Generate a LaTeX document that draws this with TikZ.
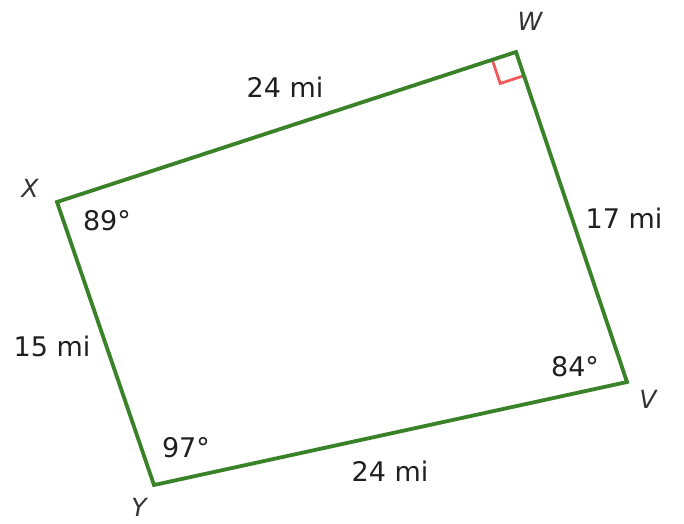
\documentclass[tikz,border=0pt]{standalone}
\usepackage{fontspec}
\setmainfont{DejaVu Sans}
\usetikzlibrary{calc}
\begin{document}
\begin{tikzpicture}[x=1pt,y=-1pt,
  edge/.style={draw=edgegreen,line width=3.8pt,line join=miter},
  lbl/.style={font=\fontsize{27}{32}\selectfont,text=black!88,inner sep=0pt},
  vlbl/.style={font=\fontsize{25}{30}\selectfont\itshape,text=black!80,inner sep=0pt}]
\definecolor{edgegreen}{RGB}{58,130,40}
\definecolor{markred}{RGB}{240,90,90}
\useasboundingbox (0,0) rectangle (684,523);
\coordinate (X) at (57,202);
\coordinate (W) at (516,52);
\coordinate (V) at (627,382);
\coordinate (Y) at (154,485);
% right angle mark
\coordinate (ra) at ($(W)!25pt!(X)$);
\coordinate (rb) at ($(W)!25pt!(V)$);
\coordinate (rc) at ($(ra)+(rb)-(W)$);
\draw[markred,line width=2.8pt] (ra) -- (rc) -- (rb);
\draw[edge] (X) -- (W) -- (V) -- (Y) -- cycle;
\node[vlbl] (lw) at (530,21) {W};
\node[vlbl] (lx) at (30,188) {X};
\node[vlbl] (lv) at (648,399) {V};
\node[vlbl] (ly) at (139,507) {Y};
\node[lbl] (e1) at (285,87) {24 mi};
\node[lbl] (e2) at (624,218) {17 mi};
\node[lbl] (e3) at (52,346) {15 mi};
\node[lbl] (e4) at (390,471) {24 mi};
\node[lbl] (a1) at (107,221) {89°};
\node[lbl] (a2) at (575,367) {84°};
\node[lbl] (a3) at (186,448) {97°};
\end{tikzpicture}
\end{document}
